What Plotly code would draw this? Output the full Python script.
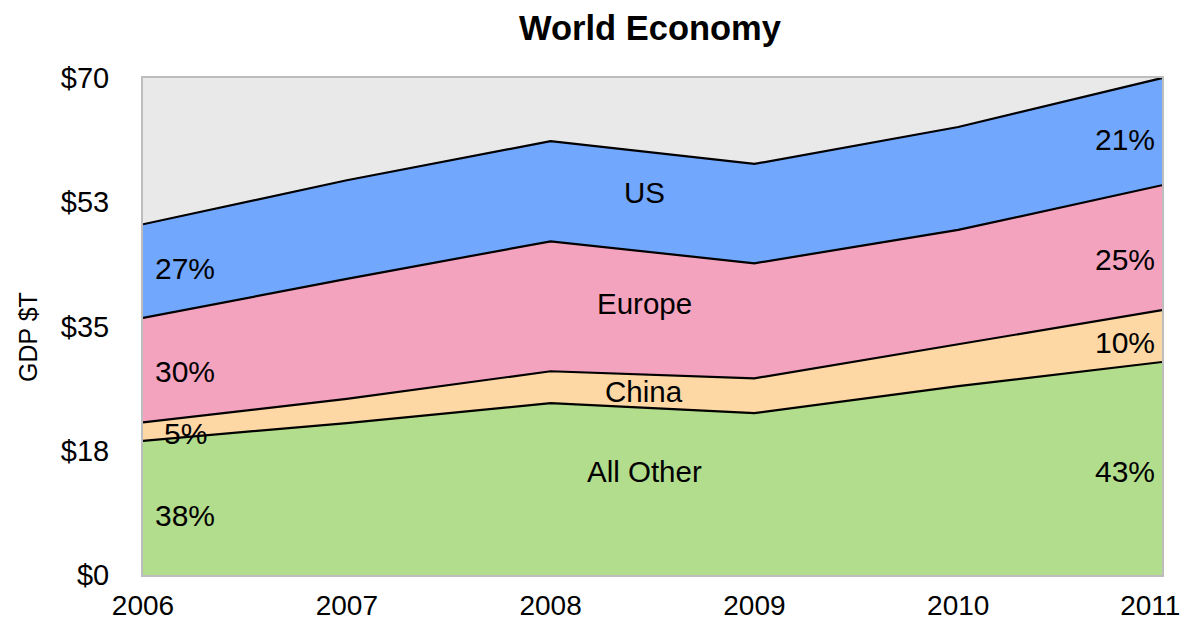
import plotly.graph_objects as go

years = [2006, 2007, 2008, 2009, 2010, 2011]
x_tick_text = ["2006", "2007", "2008", "2009", "2010", "2011\u00a0\u00a0\u00a0"]
all_other = [18.9, 21.4, 24.2, 22.8, 26.6, 30.0]
china = [2.6, 3.4, 4.5, 4.9, 5.9, 7.3]
europe = [14.7, 16.9, 18.3, 16.2, 16.1, 17.6]
us = [13.2, 13.9, 14.1, 14.0, 14.5, 15.1]

series_names = ["All Other", "China", "Europe", "US"]
left_pct = ["38%", "5%", "30%", "27%"]
right_pct = ["43%", "10%", "25%", "21%"]

tick_vals = [0, 17.5, 35, 52.5, 70]
tick_text = ["$0", "$18", "$35", "$53", "$70"]

colors = ["#b2dd8c", "#fdd8a4", "#f4a3bf", "#72a7fe"]
font = "Liberation Sans, Arial, Helvetica, sans-serif"

fig = go.Figure()
for name, vals, color in zip(series_names, [all_other, china, europe, us], colors):
    fig.add_trace(go.Scatter(
        x=years, y=vals, name=name, mode="lines", stackgroup="one",
        fillcolor=color, line=dict(color="black", width=2.2),
        hoverinfo="x+y+name",
    ))

annots = []
center_y = [14.6, 25.8, 38.3, 53.9]
for txt, y in zip(series_names, center_y):
    annots.append(dict(x=2008.46, y=y, text=txt, showarrow=False, xanchor="center",
                       yanchor="middle", font=dict(size=29.5, color="black", family=font)))

left_y = [8.45, 20.0, 28.7, 43.2]
left_x = [2006.05, 2006.093, 2006.05, 2006.05]
right_y = [14.6, 32.7, 44.5, 61.3]
for i in range(4):
    annots.append(dict(x=left_x[i], y=left_y[i], text=left_pct[i], showarrow=False,
                       xanchor="left", yanchor="middle",
                       font=dict(size=30, color="black", family=font)))
    annots.append(dict(x=2010.975, y=right_y[i], text=right_pct[i], showarrow=False,
                       xanchor="right", yanchor="middle",
                       font=dict(size=30, color="black", family=font)))

# y-axis title as rotated annotation
annots.append(dict(xref="paper", yref="paper", x=(28 - 143) / 1019, y=(575 - 337) / 497,
                   text="GDP $T", textangle=-90, showarrow=False, xanchor="center",
                   yanchor="middle", font=dict(size=25, color="black", family=font)))

fig.update_layout(
    width=1193, height=619,
    margin=dict(l=135, r=39, t=70, b=52),
    paper_bgcolor="white",
    plot_bgcolor="#e9e9e9",
    showlegend=False,
    title=dict(text="<b>World Economy</b>", x=(650 - 8) / 1193, xanchor="center",
               y=1 - 20 / 619, yanchor="middle",
               font=dict(size=34.5, color="black", family=font)),
    font=dict(family=font, color="black"),
    annotations=annots,
)
fig.update_xaxes(range=[2006, 2011], tickvals=years, ticktext=x_tick_text,
                 showgrid=False, zeroline=False, tickfont=dict(size=28),
                 showline=True, linecolor="#bdbdbd", linewidth=2, mirror=True, ticks="",
                 ticklabelstandoff=4, automargin=False, ticklabeloverflow="allow")
fig.update_yaxes(range=[0, 70], tickvals=tick_vals, ticktext=tick_text,
                 showgrid=False, zeroline=False, tickfont=dict(size=29),
                 showline=True, linecolor="#bdbdbd", linewidth=2, mirror=True, ticks="",
                 ticklabelstandoff=26, automargin=False, ticklabeloverflow="allow")

fig.write_html("out.html")
